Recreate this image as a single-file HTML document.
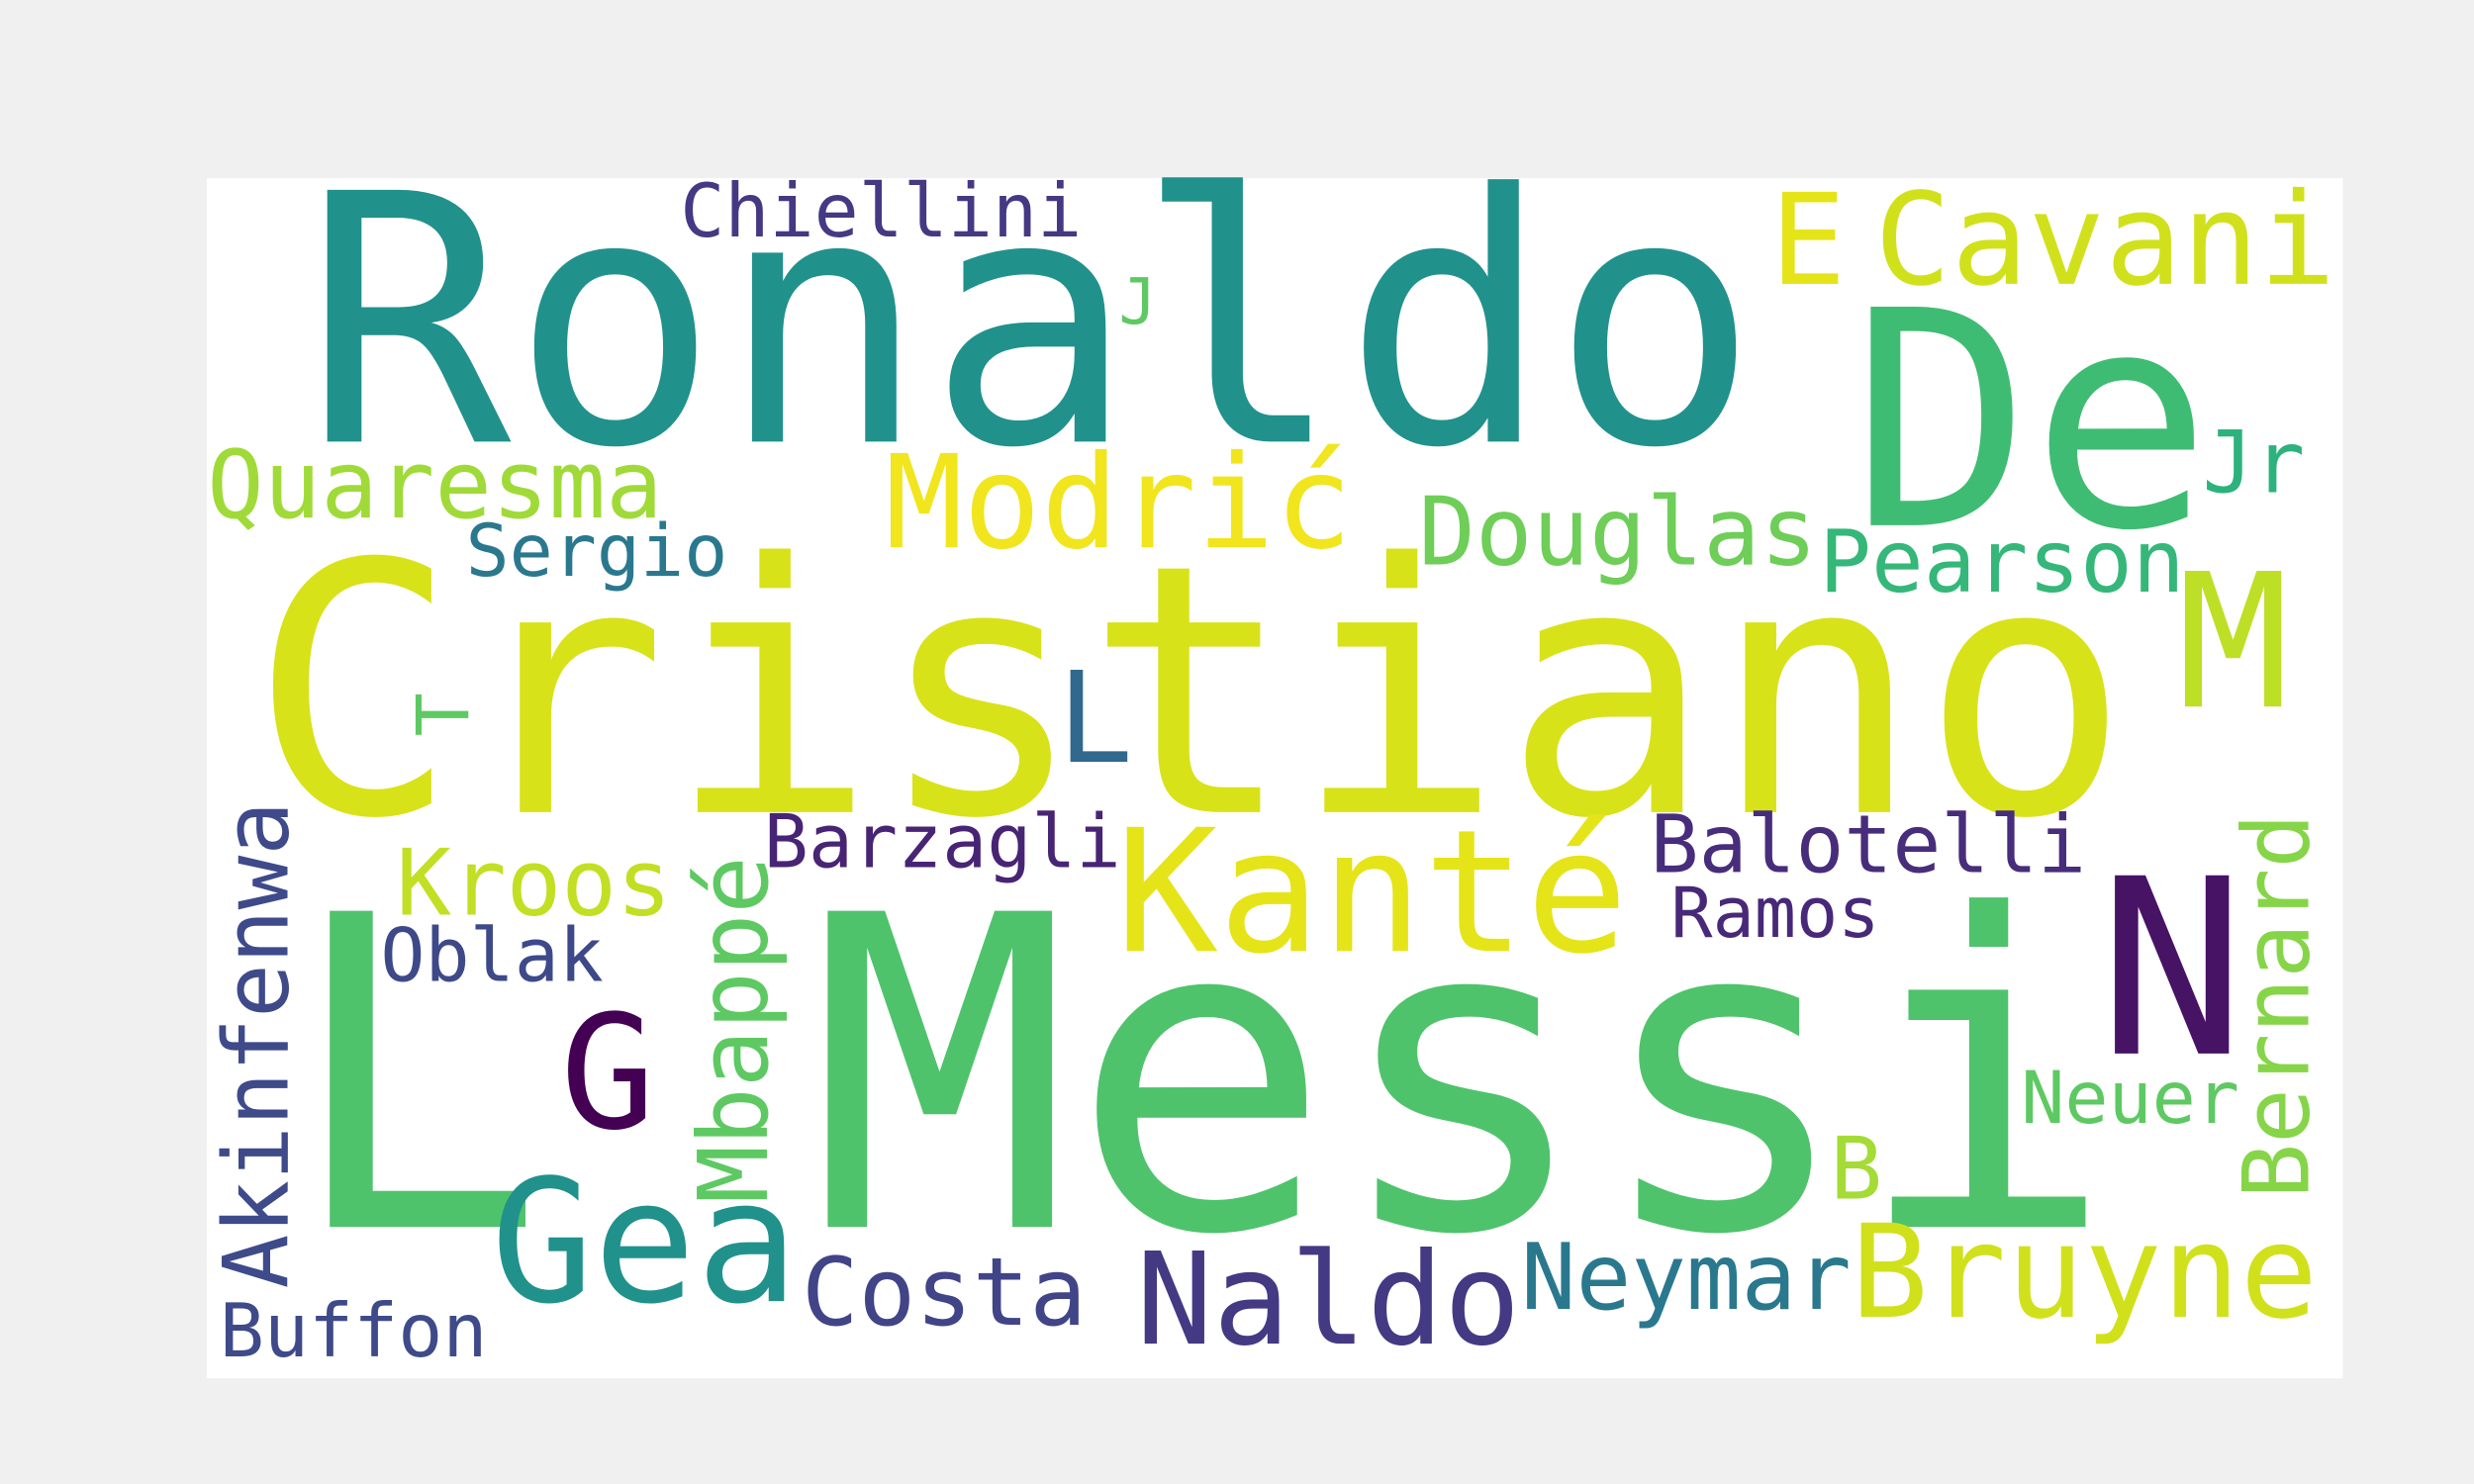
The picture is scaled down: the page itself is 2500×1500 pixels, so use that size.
<!DOCTYPE html>
<html><head><meta charset="utf-8"><style>
html,body{margin:0;padding:0;background:#f0f0f0;}
svg{display:block;}
text{font-family:"DejaVu Sans Mono","Liberation Mono",monospace;}
</style></head><body>
<svg id="cloud" width="2500" height="1500" viewBox="0 0 1568 941" xmlns="http://www.w3.org/2000/svg">
<rect x="0" y="0" width="1568" height="941" fill="#f0f0f0"/>
<rect x="131" y="113" width="1354" height="761" fill="#ffffff"/>
<g id="words"></g>
</svg>
<script>
const words = ["Ronaldo","Cristiano","Messi","L","De","Cavani","E","J","Chiellini","Quaresma","Sergio","Modrić","Douglas","Pearson","Jr","M","L","T","Akinfenwa","Kroos","Oblak","Mbappé","G","Gea","Barzagli","Kanté","Balotelli","Ramos","N","Bernard","Neuer","B","Bruyne","Neymar","Naldo","Costa","Buffon"];
const sizes = [219,220,275,275,190,81,80,40,47,60,46,82,60,55,54,118,80,46,57,58,47,61,100,108,47,108,51,44,155,58,46,55,82,58,81,60,47];
const colors = ["#21918c","#d8e219","#4ec36b","#4ec36b","#3fbc73","#d0e11c","#e5e419","#5ec962","#443983","#a0da39","#2a788e","#f1e51d","#6ece58","#35b779","#2db27d","#bddf26","#31688e","#5ec962","#3e4a89","#c2df23","#3e4989","#5ec962","#440154","#21918c","#482475","#e5e419","#472d7b","#482878","#471365","#86d549","#5ec962","#a5db36","#d0e11c","#2a788e","#443983","#414487","#3e4a89"];
const rotated = [0,0,0,0,0,0,0,0,0,0,0,0,0,0,0,0,0,1,1,0,0,1,0,0,0,0,0,0,0,1,0,0,0,0,0,0,0];
const posX = [192,158,513,180,1173,1188,1122,709,431,131,295,561,899,1153,1396,1380,670,297,182,251,241,486,355,311,484,707,1046,1059,1330,1463,1281,1160,1173,964,720,508,139];
const posY = [280,515,778,778,333,180,180,205,150,328,365,347,358,375,312,448,483,467,817,580,622,763,715,825,550,603,553,594,668,760,712,760,835,830,852,840,860];
const g = document.getElementById('words');
for (let i = 0; i < words.length; i++) {
  const t = document.createElementNS('http://www.w3.org/2000/svg','text');
  
  
  t.setAttribute('x', posX[i]);
  t.setAttribute('y', posY[i]);
  t.setAttribute('font-size', sizes[i]);
  t.setAttribute('fill', colors[i]);
  if (rotated[i]) t.setAttribute('transform', 'rotate(-90 ' + posX[i] + ' ' + posY[i] + ')');
  t.textContent = words[i];
  g.appendChild(t);
}
</script>
</body></html>
